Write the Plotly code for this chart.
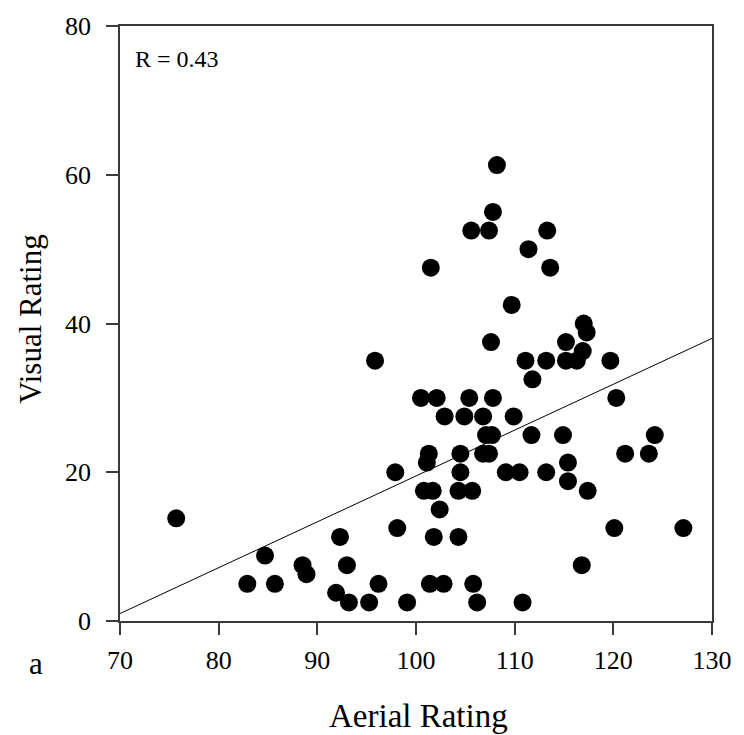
import plotly.graph_objects as go

# Aerial vs. visual ratings for each site
aerial = [75.7, 95.85, 97.9, 98.1, 92.3, 84.7, 88.5, 88.9, 93.0, 82.9,
          85.7, 96.2, 91.9, 93.2, 95.25, 99.1, 108.2, 107.8, 105.6, 107.4,
          113.3, 111.4, 101.5, 113.6, 109.7, 117.0, 117.3, 107.6, 115.2, 116.9,
          111.1, 113.2, 115.2, 116.3, 119.7, 111.8, 100.5, 102.1, 105.4, 107.8,
          120.3, 102.9, 104.9, 106.8, 109.9, 107.1, 107.7, 111.7, 114.9, 124.2,
          106.8, 107.4, 101.3, 101.1, 104.5, 121.2, 123.6, 104.5, 109.1, 110.5,
          113.2, 115.4, 115.4, 117.4, 100.8, 101.7, 104.3, 105.7, 102.4, 101.8,
          104.3, 120.1, 127.1, 116.8, 101.4, 102.8, 105.8, 106.2, 110.8]
visual = [13.8, 35.0, 20.0, 12.5, 11.3, 8.8, 7.5, 6.3, 7.5, 5.0,
          5.0, 5.0, 3.8, 2.5, 2.5, 2.5, 61.3, 55.0, 52.5, 52.5,
          52.5, 50.0, 47.5, 47.5, 42.5, 40.0, 38.8, 37.5, 37.5, 36.3,
          35.0, 35.0, 35.0, 35.0, 35.0, 32.5, 30.0, 30.0, 30.0, 30.0,
          30.0, 27.5, 27.5, 27.5, 27.5, 25.0, 25.0, 25.0, 25.0, 25.0,
          22.5, 22.5, 22.5, 21.3, 22.5, 22.5, 22.5, 20.0, 20.0, 20.0,
          20.0, 21.3, 18.8, 17.5, 17.5, 17.5, 17.5, 17.5, 15.0, 11.3,
          11.3, 12.5, 12.5, 7.5, 5.0, 5.0, 5.0, 2.5, 2.5]

# Fitted regression line end points
fit_x = [70, 130]
fit_y = [1.0, 38.0]
r_value = 0.43

x_ticks = [70, 80, 90, 100, 110, 120, 130]
y_ticks = [0, 20, 40, 60, 80]

SERIF = "Liberation Serif"
AXIS_COLOR = "#3a3a3a"

fig = go.Figure()
fig.add_trace(go.Scatter(x=fit_x, y=fit_y, mode="lines",
                         line=dict(color="black", width=1), showlegend=False))
fig.add_trace(go.Scatter(x=aerial, y=visual, mode="markers",
                         marker=dict(color="black", size=18, line=dict(width=0)),
                         showlegend=False))

axis_common = dict(showgrid=False, zeroline=False, showline=True, mirror=True,
                   linecolor=AXIS_COLOR, linewidth=1.5, ticks="outside",
                   ticklen=12, tickwidth=1.5, tickcolor=AXIS_COLOR,
                   tickfont=dict(family=SERIF, size=26, color="black"))

fig.update_xaxes(range=[70, 130], tickvals=x_ticks, ticklabelstandoff=3, **axis_common)
fig.update_yaxes(range=[0, 80], tickvals=y_ticks, ticklabelstandoff=10, **axis_common)

fig.update_layout(
    width=744, height=735,
    margin=dict(l=120, r=27, t=21, b=114),
    paper_bgcolor="white", plot_bgcolor="white",
    font=dict(family=SERIF, color="black"),
    annotations=[
        dict(text=f"R = {r_value:.2f}", xref="paper", yref="paper",
             x=0.0218, y=0.945, xanchor="left", yanchor="middle",
             showarrow=False, font=dict(family=SERIF, size=24)),
        dict(text="Visual Rating", xref="paper", yref="paper",
             x=-0.1524, y=0.5075, xanchor="center", yanchor="middle",
             textangle=-90, showarrow=False, font=dict(family=SERIF, size=31)),
        dict(text="Aerial Rating", xref="paper", yref="paper",
             x=0.504, y=-0.16, xanchor="center", yanchor="middle",
             showarrow=False, font=dict(family=SERIF, size=33)),
        dict(text="a", xref="paper", yref="paper",
             x=-0.1424, y=-0.0717, xanchor="center", yanchor="middle",
             showarrow=False, font=dict(family=SERIF, size=31)),
    ],
)

fig.write_html("out.html")
